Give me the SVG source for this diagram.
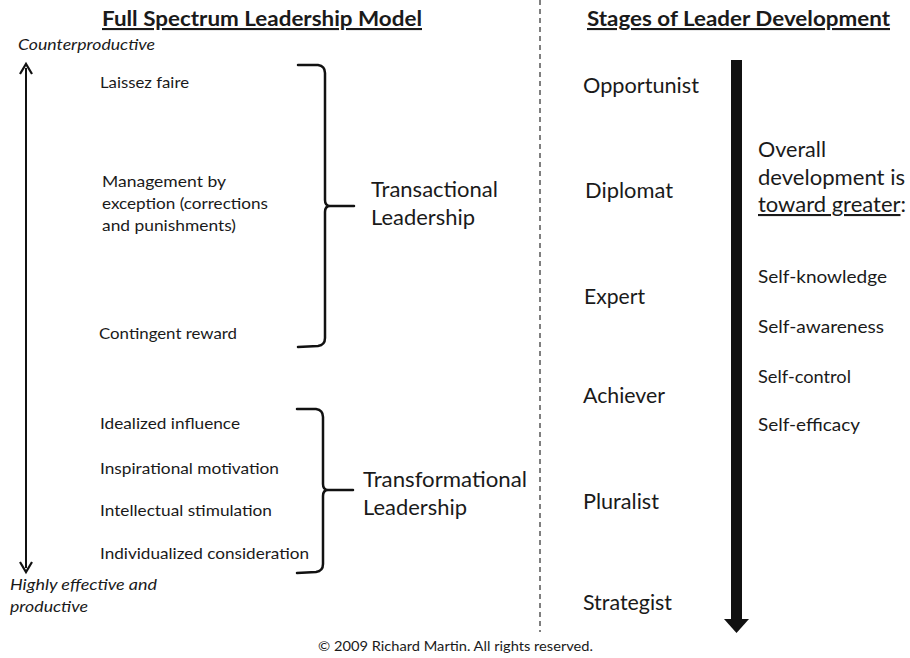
<svg xmlns="http://www.w3.org/2000/svg" width="910" height="658" viewBox="0 0 910 658">
<defs>
<style>
text{font-family:Lato,"Open Sans","Liberation Sans",sans-serif;fill:#1a1a1a}
.title{font-size:21px;font-weight:bold;text-decoration:underline}
.it{font-size:15px;font-style:italic}
.sm{font-size:16px}
.lg{font-size:21px}
.md{font-size:17px}
.br{fill:none;stroke:#111;stroke-width:2.5;stroke-linecap:round;stroke-linejoin:round}
</style>
</defs>
<rect width="910" height="658" fill="#fff"/>

<g id="titles">
<text class="title" x="102" y="26" textLength="320" lengthAdjust="spacingAndGlyphs">Full Spectrum Leadership Model</text>
<text class="title" x="587" y="26" textLength="303" lengthAdjust="spacingAndGlyphs">Stages of Leader Development</text>
</g>

<g id="connectors">
<line x1="540" y1="0" x2="540" y2="632" stroke="#555" stroke-width="1.5" stroke-dasharray="5,4"/>
<line x1="26" y1="68" x2="26" y2="568" stroke="#111" stroke-width="2"/>
<path d="M20,74 L26,64 L32,74" fill="none" stroke="#111" stroke-width="2.2"/>
<path d="M20,562 L26,572 L32,562" fill="none" stroke="#111" stroke-width="2.2"/>
<path class="br" d="M298,65 L318,65 Q325,66 325,73 L325,200 Q325,206 330,206 L354,206 M330,206 Q325,206 325,212 L325,338 Q325,345 318,346 L298,347"/>
<path class="br" d="M297,409 L316,409 Q323,410 323,417 L323,484 Q323,490 328,490 L353,490 M328,490 Q323,490 323,496 L323,564 Q323,571 316,572 L297,573"/>
<rect x="731" y="60" width="11" height="560" fill="#111"/>
<path d="M724,619 L749,619 L736.5,633 Z" fill="#111"/>
</g>

<g id="axis-labels">
<text class="it" x="18" y="50" textLength="137" lengthAdjust="spacingAndGlyphs">Counterproductive</text>
<text class="it" x="10" y="590" textLength="147" lengthAdjust="spacingAndGlyphs">Highly effective and</text>
<text class="it" x="10" y="612" textLength="78" lengthAdjust="spacingAndGlyphs">productive</text>
</g>

<g id="transactional-items">
<text class="sm" x="100" y="88" textLength="89" lengthAdjust="spacingAndGlyphs">Laissez faire</text>
<text class="sm" x="102" y="187" textLength="124" lengthAdjust="spacingAndGlyphs">Management by</text>
<text class="sm" x="102" y="209" textLength="166" lengthAdjust="spacingAndGlyphs">exception (corrections</text>
<text class="sm" x="102" y="231" textLength="134" lengthAdjust="spacingAndGlyphs">and punishments)</text>
<text class="sm" x="99" y="339" textLength="138" lengthAdjust="spacingAndGlyphs">Contingent reward</text>
</g>

<g id="transactional">
<text class="lg" x="371" y="197" textLength="127" lengthAdjust="spacingAndGlyphs">Transactional</text>
<text class="lg" x="371" y="225" textLength="104" lengthAdjust="spacingAndGlyphs">Leadership</text>
</g>

<g id="transformational-items">
<text class="sm" x="100" y="429" textLength="140" lengthAdjust="spacingAndGlyphs">Idealized influence</text>
<text class="sm" x="100" y="474" textLength="179" lengthAdjust="spacingAndGlyphs">Inspirational motivation</text>
<text class="sm" x="100" y="516" textLength="172" lengthAdjust="spacingAndGlyphs">Intellectual stimulation</text>
<text class="sm" x="100" y="559" textLength="209" lengthAdjust="spacingAndGlyphs">Individualized consideration</text>
</g>

<g id="transformational">
<text class="lg" x="363" y="487" textLength="164" lengthAdjust="spacingAndGlyphs">Transformational</text>
<text class="lg" x="363" y="515" textLength="104" lengthAdjust="spacingAndGlyphs">Leadership</text>
</g>

<g id="stages">
<text class="lg" x="583" y="93" textLength="116" lengthAdjust="spacingAndGlyphs">Opportunist</text>
<text class="lg" x="585" y="198" textLength="88" lengthAdjust="spacingAndGlyphs">Diplomat</text>
<text class="lg" x="584" y="304" textLength="61" lengthAdjust="spacingAndGlyphs">Expert</text>
<text class="lg" x="583" y="403" textLength="82" lengthAdjust="spacingAndGlyphs">Achiever</text>
<text class="lg" x="583" y="509" textLength="76" lengthAdjust="spacingAndGlyphs">Pluralist</text>
<text class="lg" x="583" y="610" textLength="89" lengthAdjust="spacingAndGlyphs">Strategist</text>
</g>

<g id="development">
<text class="lg" x="758" y="157" textLength="68" lengthAdjust="spacingAndGlyphs">Overall</text>
<text class="lg" x="758" y="185" textLength="147" lengthAdjust="spacingAndGlyphs">development is</text>
<text class="lg" x="758" y="212" textLength="148" lengthAdjust="spacingAndGlyphs"><tspan text-decoration="underline">toward greater</tspan>:</text>
<text class="md" x="758" y="283" textLength="129" lengthAdjust="spacingAndGlyphs">Self-knowledge</text>
<text class="md" x="758" y="333" textLength="126" lengthAdjust="spacingAndGlyphs">Self-awareness</text>
<text class="md" x="758" y="383" textLength="93" lengthAdjust="spacingAndGlyphs">Self-control</text>
<text class="md" x="758" y="431" textLength="102" lengthAdjust="spacingAndGlyphs">Self-efficacy</text>
</g>

<g id="footer">
<text x="318" y="651" font-size="13" textLength="275" lengthAdjust="spacingAndGlyphs">© 2009 Richard Martin. All rights reserved.</text>
</g>
</svg>
